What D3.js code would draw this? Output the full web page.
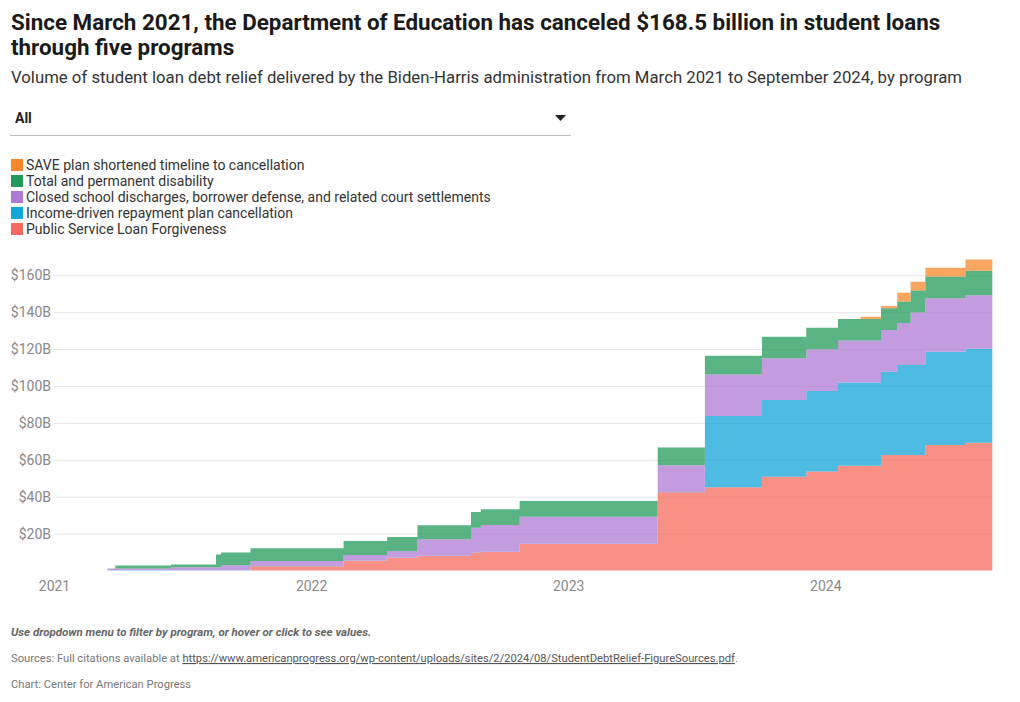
<!DOCTYPE html>
<html>
<head>
<meta charset="utf-8">
<script src="https://cdn.jsdelivr.net/npm/d3@7"></script>
<style>
  body { margin: 0; background: #fff; font-family: Roboto, "Noto Sans", sans-serif; }
  svg text { font-family: Roboto, "Noto Sans", sans-serif; }
</style>
</head>
<body>
<svg id="chart" width="1020" height="702"></svg>
<script>
// ---- data ----
const dates = ["2021-03-18","2021-03-29","2021-06-16","2021-08-19","2021-08-26","2021-10-07",
  "2022-02-16","2022-04-19","2022-06-01","2022-08-16","2022-08-30","2022-10-24",
  "2023-05-08","2023-07-14","2023-10-03","2023-12-05","2024-01-19","2024-02-20",
  "2024-03-20","2024-04-12","2024-05-01","2024-05-22","2024-07-18","2024-08-25"];
const pslf   = [0,0,0,0,0,2.3,5.3,6.9,7.9,9.6,10.0,14.4,42.4,45.1,50.8,53.6,56.8,56.8,62.6,62.6,62.6,68.0,69.2,69.2];
const idr    = [0.1,0.1,0.1,0.1,0.1,0.1,0.1,0.1,0.1,0.1,0.1,0.1,0.1,38.6,41.6,43.7,45.1,45.1,45.1,48.8,48.8,50.6,51.0,51.0];
const closed = [1.0,1.0,1.6,1.6,2.7,2.7,3.0,3.6,8.9,13.5,14.6,14.6,14.6,22.6,22.6,22.6,22.7,22.7,22.7,22.7,28.5,28.9,29.0,29.0];
const tpd    = [0,1.6,1.6,7.0,7.0,7.0,7.6,7.6,7.6,8.5,8.5,8.6,9.5,10.1,11.7,11.7,11.7,11.7,11.7,11.7,11.8,11.8,13.3,13.3];
const save   = [0,0,0,0,0,0,0,0,0,0,0,0,0,0,0,0,0,1.2,1.2,4.8,4.8,4.8,6.0,6.0];

const seriesKeys = ["pslf","idr","closed","tpd","save"];
const seriesNames = {
  save: "SAVE plan shortened timeline to cancellation",
  tpd: "Total and permanent disability",
  closed: "Closed school discharges, borrower defense, and related court settlements",
  idr: "Income-driven repayment plan cancellation",
  pslf: "Public Service Loan Forgiveness"
};
const legendOrder = ["save","tpd","closed","idr","pslf"];
const colors = { save:"#f7892b", tpd:"#219a59", closed:"#ae7bd4", idr:"#13a6d8", pslf:"#f76b5e" };
const yTicks = [20,40,60,80,100,120,140,160];
const xTickYears = ["2021","2022","2023","2024"];

// ---- build table ----
const parse = d3.timeParse("%Y-%m-%d");
const table = dates.map((d,i) => ({date: parse(d), pslf: pslf[i], idr: idr[i], closed: closed[i], tpd: tpd[i], save: save[i]}));

const svg = d3.select("#chart");

// titles
svg.append("text").attr("x",11).attr("y",30).attr("font-size",22.4).attr("font-weight",700).attr("fill","#1a1a1a")
  .text("Since March 2021, the Department of Education has canceled $168.5 billion in student loans");
svg.append("text").attr("x",11).attr("y",55).attr("font-size",22.4).attr("font-weight",700).attr("fill","#1a1a1a")
  .text("through five programs");
svg.append("text").attr("x",11).attr("y",83).attr("font-size",16.75).attr("fill","#333")
  .text("Volume of student loan debt relief delivered by the Biden-Harris administration from March 2021 to September 2024, by program");

// dropdown
svg.append("text").attr("x",15).attr("y",123).attr("font-size",14).attr("font-weight",700).attr("fill","#222").text("All");
svg.append("path").attr("d","M555,115 L566,115 L560.5,121 Z").attr("fill","#222");
svg.append("line").attr("x1",10).attr("x2",571).attr("y1",135.5).attr("y2",135.5).attr("stroke","#bbb").attr("stroke-width",1);

// legend
const lg = svg.append("g");
legendOrder.forEach((k,i) => {
  const yy = 159 + i*16;
  lg.append("rect").attr("x",11).attr("y",yy).attr("width",12).attr("height",12).attr("fill",colors[k]);
  lg.append("text").attr("x",26).attr("y",yy+11).attr("font-size",14).attr("fill","#333").text(seriesNames[k]);
});

// scales
const x = d3.scaleTime().domain([parse("2021-01-01"), parse("2024-08-25")]).range([54, 992.3]);
const y = d3.scaleLinear().domain([0,160]).range([570.5, 275.3]);

// gridlines + y labels
const yAxis = d3.axisLeft(y).tickValues(yTicks).tickSize(-(992.3-54)).tickFormat(d => "$" + d + "B");
const gy = svg.append("g").attr("transform","translate(54,0)").call(yAxis);
gy.select(".domain").remove();
gy.selectAll(".tick line").attr("stroke","#e6e6e6").attr("stroke-width",1);
gy.selectAll(".tick text").attr("x",-3).attr("font-size",14).attr("fill","#888").attr("font-family","Roboto, sans-serif");

// stacked step areas
const stack = d3.stack().keys(seriesKeys);
const layers = stack(table);
const area = d3.area()
  .curve(d3.curveStepAfter)
  .x(d => x(d.data.date))
  .y0(d => y(d[0]))
  .y1(d => y(d[1]));
svg.append("g").selectAll("path").data(layers).join("path")
  .attr("d", area)
  .attr("fill", d => colors[d.key])
  .attr("fill-opacity", 0.75);

// x axis labels
const xAxis = d3.axisBottom(x).tickValues(xTickYears.map(yv => parse(yv + "-01-01"))).tickSize(0).tickFormat(d3.timeFormat("%Y"));
const gx = svg.append("g").attr("transform","translate(0,578)").call(xAxis);
gx.select(".domain").remove();
gx.selectAll(".tick text").attr("font-size",14).attr("fill","#888").attr("font-family","Roboto, sans-serif");

// footer
svg.append("text").attr("x",11).attr("y",636).attr("font-size",11.5).attr("font-weight",700).attr("font-style","italic").attr("fill","#666")
  .text("Use dropdown menu to filter by program, or hover or click to see values.");
const src = svg.append("text").attr("x",11).attr("y",662).attr("font-size",11.2).attr("fill","#777");
src.append("tspan").text("Sources: Full citations available at ");
src.append("tspan").attr("text-decoration","underline").attr("fill","#555").text("https://www.americanprogress.org/wp-content/uploads/sites/2/2024/08/StudentDebtRelief-FigureSources.pdf");
src.append("tspan").text(".");
svg.append("text").attr("x",11).attr("y",688).attr("font-size",11.2).attr("fill","#777").text("Chart: Center for American Progress");
</script>
</body>
</html>
